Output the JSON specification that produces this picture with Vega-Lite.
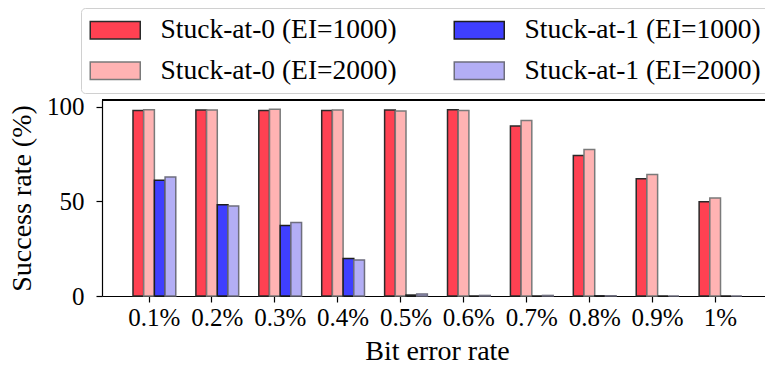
{
  "$schema": "https://vega.github.io/schema/vega-lite/v6.json",
  "width": 663,
  "height": 196,
  "autosize": {"type": "none"},
  "padding": {"left": 102, "top": 100, "right": 0, "bottom": 71},
  "background": "white",
  "config": {
    "view": {"stroke": null},
    "font": "Liberation Serif",
    "axis": {
      "grid": false,
      "domainColor": "black",
      "domainWidth": 1.2,
      "tickColor": "black",
      "tickWidth": 1.2,
      "tickSize": 6,
      "labelFont": "Liberation Serif",
      "labelFontSize": 25,
      "labelColor": "black",
      "titleFont": "Liberation Serif",
      "titleFontSize": 28,
      "titleFontWeight": "normal",
      "titleColor": "black"
    },
    "legend": {
      "orient": "none",
      "legendX": -21,
      "legendY": -92,
      "columns": 2,
      "symbolType": "M-1,-0.7H3V0.7H-1Z",
      "symbolSize": 625,
      "symbolStrokeWidth": 1.5,
      "labelFont": "Liberation Serif",
      "labelFontSize": 27.5,
      "labelColor": "black",
      "labelLimit": 500,
      "labelOffset": 44,
      "columnPadding": 54,
      "rowPadding": 12,
      "padding": 8,
      "strokeColor": "#d0d0d0",
      "fillColor": "white",
      "cornerRadius": 4
    }
  },
  "data": {
    "values": [
      {"ber": "0.1%", "type": "Stuck-at-0 (EI=1000)", "rate": 98.2},
      {"ber": "0.1%", "type": "Stuck-at-0 (EI=2000)", "rate": 98.6},
      {"ber": "0.1%", "type": "Stuck-at-1 (EI=1000)", "rate": 61.2},
      {"ber": "0.1%", "type": "Stuck-at-1 (EI=2000)", "rate": 63.0},
      {"ber": "0.2%", "type": "Stuck-at-0 (EI=1000)", "rate": 98.4},
      {"ber": "0.2%", "type": "Stuck-at-0 (EI=2000)", "rate": 98.4},
      {"ber": "0.2%", "type": "Stuck-at-1 (EI=1000)", "rate": 48.3},
      {"ber": "0.2%", "type": "Stuck-at-1 (EI=2000)", "rate": 47.6},
      {"ber": "0.3%", "type": "Stuck-at-0 (EI=1000)", "rate": 98.2},
      {"ber": "0.3%", "type": "Stuck-at-0 (EI=2000)", "rate": 98.8},
      {"ber": "0.3%", "type": "Stuck-at-1 (EI=1000)", "rate": 37.3},
      {"ber": "0.3%", "type": "Stuck-at-1 (EI=2000)", "rate": 38.9},
      {"ber": "0.4%", "type": "Stuck-at-0 (EI=1000)", "rate": 98.2},
      {"ber": "0.4%", "type": "Stuck-at-0 (EI=2000)", "rate": 98.4},
      {"ber": "0.4%", "type": "Stuck-at-1 (EI=1000)", "rate": 19.8},
      {"ber": "0.4%", "type": "Stuck-at-1 (EI=2000)", "rate": 19.1},
      {"ber": "0.5%", "type": "Stuck-at-0 (EI=1000)", "rate": 98.4},
      {"ber": "0.5%", "type": "Stuck-at-0 (EI=2000)", "rate": 97.9},
      {"ber": "0.5%", "type": "Stuck-at-1 (EI=1000)", "rate": 0.5},
      {"ber": "0.5%", "type": "Stuck-at-1 (EI=2000)", "rate": 1.1},
      {"ber": "0.6%", "type": "Stuck-at-0 (EI=1000)", "rate": 98.6},
      {"ber": "0.6%", "type": "Stuck-at-0 (EI=2000)", "rate": 98.1},
      {"ber": "0.6%", "type": "Stuck-at-1 (EI=1000)", "rate": 0},
      {"ber": "0.6%", "type": "Stuck-at-1 (EI=2000)", "rate": 0.3},
      {"ber": "0.7%", "type": "Stuck-at-0 (EI=1000)", "rate": 89.9},
      {"ber": "0.7%", "type": "Stuck-at-0 (EI=2000)", "rate": 92.8},
      {"ber": "0.7%", "type": "Stuck-at-1 (EI=1000)", "rate": 0},
      {"ber": "0.7%", "type": "Stuck-at-1 (EI=2000)", "rate": 0.3},
      {"ber": "0.8%", "type": "Stuck-at-0 (EI=1000)", "rate": 74.3},
      {"ber": "0.8%", "type": "Stuck-at-0 (EI=2000)", "rate": 77.5},
      {"ber": "0.8%", "type": "Stuck-at-1 (EI=1000)", "rate": 0.1},
      {"ber": "0.8%", "type": "Stuck-at-1 (EI=2000)", "rate": 0.1},
      {"ber": "0.9%", "type": "Stuck-at-0 (EI=1000)", "rate": 62.0},
      {"ber": "0.9%", "type": "Stuck-at-0 (EI=2000)", "rate": 64.3},
      {"ber": "0.9%", "type": "Stuck-at-1 (EI=1000)", "rate": 0},
      {"ber": "0.9%", "type": "Stuck-at-1 (EI=2000)", "rate": 0},
      {"ber": "1%", "type": "Stuck-at-0 (EI=1000)", "rate": 49.9},
      {"ber": "1%", "type": "Stuck-at-0 (EI=2000)", "rate": 51.9},
      {"ber": "1%", "type": "Stuck-at-1 (EI=1000)", "rate": 0},
      {"ber": "1%", "type": "Stuck-at-1 (EI=2000)", "rate": 0}
    ]
  },
  "layer": [
    {
      "mark": {"type": "bar", "strokeWidth": 1.5},
      "encoding": {
        "x": {
          "field": "ber",
          "type": "nominal",
          "sort": ["0.1%", "0.2%", "0.3%", "0.4%", "0.5%", "0.6%", "0.7%", "0.8%", "0.9%", "1%"],
          "scale": {"paddingInner": 0.32, "paddingOuter": 0.43, "align": 0.573},
          "title": "Bit error rate",
          "axis": {"labelAngle": 0, "bandPosition": 0.375, "labelPadding": 3, "titlePadding": 7, "titleX": 335}
        },
        "xOffset": {
          "field": "type",
          "type": "nominal",
          "scale": {
            "domain": ["Stuck-at-0 (EI=1000)", "Stuck-at-0 (EI=2000)", "Stuck-at-1 (EI=1000)", "Stuck-at-1 (EI=2000)"],
            "paddingInner": 0,
            "paddingOuter": 0
          }
        },
        "y": {
          "field": "rate",
          "type": "quantitative",
          "scale": {"domain": [0, 103.7], "nice": false},
          "title": "Success rate (%)",
          "axis": {"values": [0, 50, 100], "labelPadding": 12, "titlePadding": 10}
        },
        "color": {
          "field": "type",
          "type": "nominal",
          "title": null,
          "scale": {
            "domain": ["Stuck-at-0 (EI=1000)", "Stuck-at-0 (EI=2000)", "Stuck-at-1 (EI=1000)", "Stuck-at-1 (EI=2000)"],
            "range": ["#ff4152", "#ffb3b3", "#3f3fff", "#b3aef5"]
          }
        },
        "stroke": {
          "field": "type",
          "type": "nominal",
          "title": null,
          "scale": {
            "domain": ["Stuck-at-0 (EI=1000)", "Stuck-at-0 (EI=2000)", "Stuck-at-1 (EI=1000)", "Stuck-at-1 (EI=2000)"],
            "range": ["#2a2a2a", "#7a7a7a", "#1e1e1e", "#6e6e7e"]
          }
        }
      }
    },
    {
      "mark": {"type": "rule", "color": "black", "strokeWidth": 1.2},
      "encoding": {"y": {"datum": 103.7}}
    }
  ]
}
